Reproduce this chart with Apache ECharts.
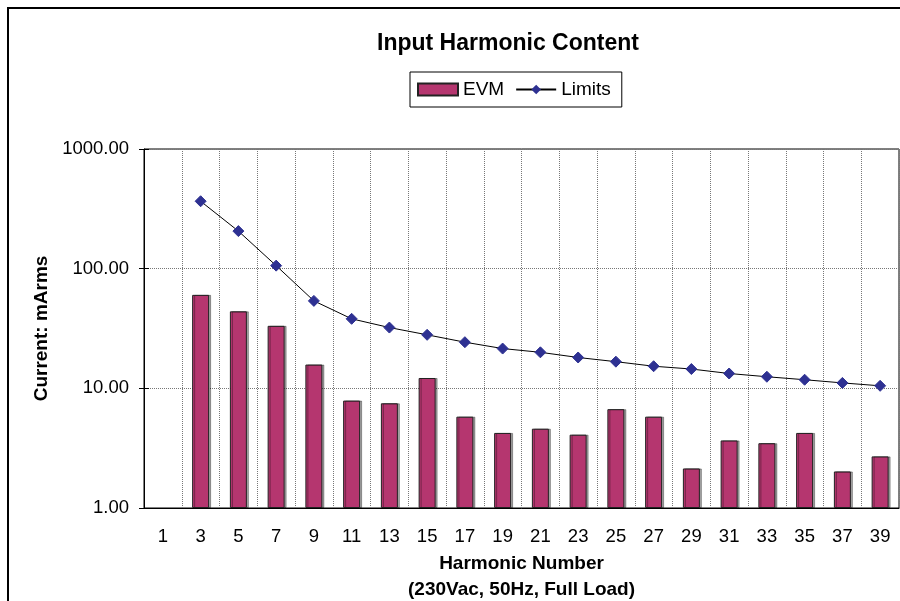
<!DOCTYPE html>
<html>
<head>
  <meta charset="UTF-8">
  <title>Input Harmonic Content</title>
  <script src="https://cdn.jsdelivr.net/npm/echarts@6/dist/echarts.min.js"></script>
  <style>
    html, body { margin: 0; padding: 0; background: #fff; }
    #chart { width: 900px; height: 601px; }
  </style>
</head>
<body>
  <div id="chart"></div>
  <script>
    // harmonic orders (odd)
    var harmonics = ['1', '3', '5', '7', '9', '11', '13', '15', '17', '19', '21', '23', '25', '27', '29', '31', '33', '35', '37', '39'];
    // measured EVM current, mArms
    var evmValues = [null, 60.4, 44, 33.3, 15.8, 7.9, 7.5, 12.2, 5.8, 4.24, 4.6, 4.1, 6.7, 5.8, 2.14, 3.67, 3.48, 4.24, 2.02, 2.7];
    // limit values, mArms
    var limitValues = [null, 366, 206, 106, 53.8, 38.1, 32.2, 28, 24.3, 21.5, 20, 18.1, 16.7, 15.3, 14.5, 13.3, 12.5, 11.8, 11.1, 10.5];

    var font = 'Liberation Sans, Arial, sans-serif';
    var chart = echarts.init(document.getElementById('chart'));

    chart.setOption({
      animation: false,
      textStyle: { fontFamily: font, color: '#000' },
      title: {
        text: 'Input Harmonic Content',
        left: 508,
        textAlign: 'center',
        top: 32,
        padding: 0,
        textStyle: { fontSize: 23, fontWeight: 'bold', color: '#000', fontFamily: font }
      },
      legend: {
        left: 410,
        top: 72,
        padding: [8, 11, 8, 7],
        borderColor: '#000',
        borderWidth: 1,
        itemGap: 11,
        itemWidth: 40,
        itemHeight: 12,
        textStyle: { fontSize: 19, color: '#000', fontFamily: font },
        data: [
          { name: 'EVM', icon: 'rect' },
          { name: 'Limits' }
        ]
      },
      graphic: [{
        type: 'rect',
        shape: { x: 8, y: 8, width: 1000, height: 1000 },
        style: { fill: 'none', stroke: '#000', lineWidth: 2 },
        silent: true
      }],
      grid: {
        left: 144,
        right: 1,
        top: 149,
        bottom: 93,
        outerBoundsMode: 'none',
        containLabel: false,
        show: true,
        borderColor: '#000',
        borderWidth: 1
      },
      xAxis: [{
        type: 'category',
        data: harmonics,
        boundaryGap: true,
        name: 'Harmonic Number\n(230Vac, 50Hz, Full Load)',
        nameLocation: 'middle',
        nameGap: 39,
        nameTextStyle: { fontSize: 19, fontWeight: 'bold', lineHeight: 26, color: '#000' },
        axisLine: { lineStyle: { color: '#000', width: 1 } },
        axisTick: { interval: 0, length: 5, lineStyle: { color: '#000' } },
        axisLabel: { interval: 0, fontSize: 18.5, color: '#000', margin: 19 },
        splitLine: { show: true, interval: 0, lineStyle: { color: '#777', type: 'dotted', width: 1 } }
      }, {
        // inner half of the crossing tick marks
        type: 'category',
        data: harmonics,
        position: 'bottom',
        axisLine: { show: false },
        axisTick: { inside: true, interval: 0, length: 5, lineStyle: { color: '#000' } },
        axisLabel: { show: false },
        splitLine: { show: false }
      }],
      yAxis: [{
        type: 'log',
        logBase: 10,
        min: 1,
        max: 1000,
        name: 'Current: mArms',
        nameLocation: 'middle',
        nameGap: 88,
        nameTextStyle: { fontSize: 19, fontWeight: 'bold', color: '#000' },
        axisLine: { show: true, lineStyle: { color: '#000', width: 1 } },
        axisTick: { show: true, length: 5, lineStyle: { color: '#000' } },
        axisLabel: {
          fontSize: 18.5, color: '#000', margin: 15,
          formatter: function (v) { return v.toFixed(2); }
        },
        splitLine: { show: true, lineStyle: { color: '#777', type: 'dotted', width: 1 } }
      }, {
        type: 'log',
        logBase: 10,
        min: 1,
        max: 1000,
        position: 'left',
        axisLine: { show: false },
        axisTick: { show: true, inside: true, length: 5, lineStyle: { color: '#000' } },
        axisLabel: { show: false },
        splitLine: { show: false }
      }],
      series: [
        {
          name: 'EVM',
          type: 'bar',
          data: evmValues,
          barWidth: '45%',
          itemStyle: {
            color: '#B5366F',
            borderColor: '#222',
            borderWidth: 1,
            shadowColor: 'rgba(0,0,0,0.35)',
            shadowOffsetX: 2,
            shadowOffsetY: 0,
            shadowBlur: 0
          }
        },
        {
          name: 'Limits',
          type: 'line',
          data: limitValues,
          symbol: 'diamond',
          symbolSize: 11,
          lineStyle: { color: '#000', width: 1 },
          itemStyle: { color: '#2E3192', borderColor: '#2E3192' }
        }
      ]
    });
  </script>
</body>
</html>
